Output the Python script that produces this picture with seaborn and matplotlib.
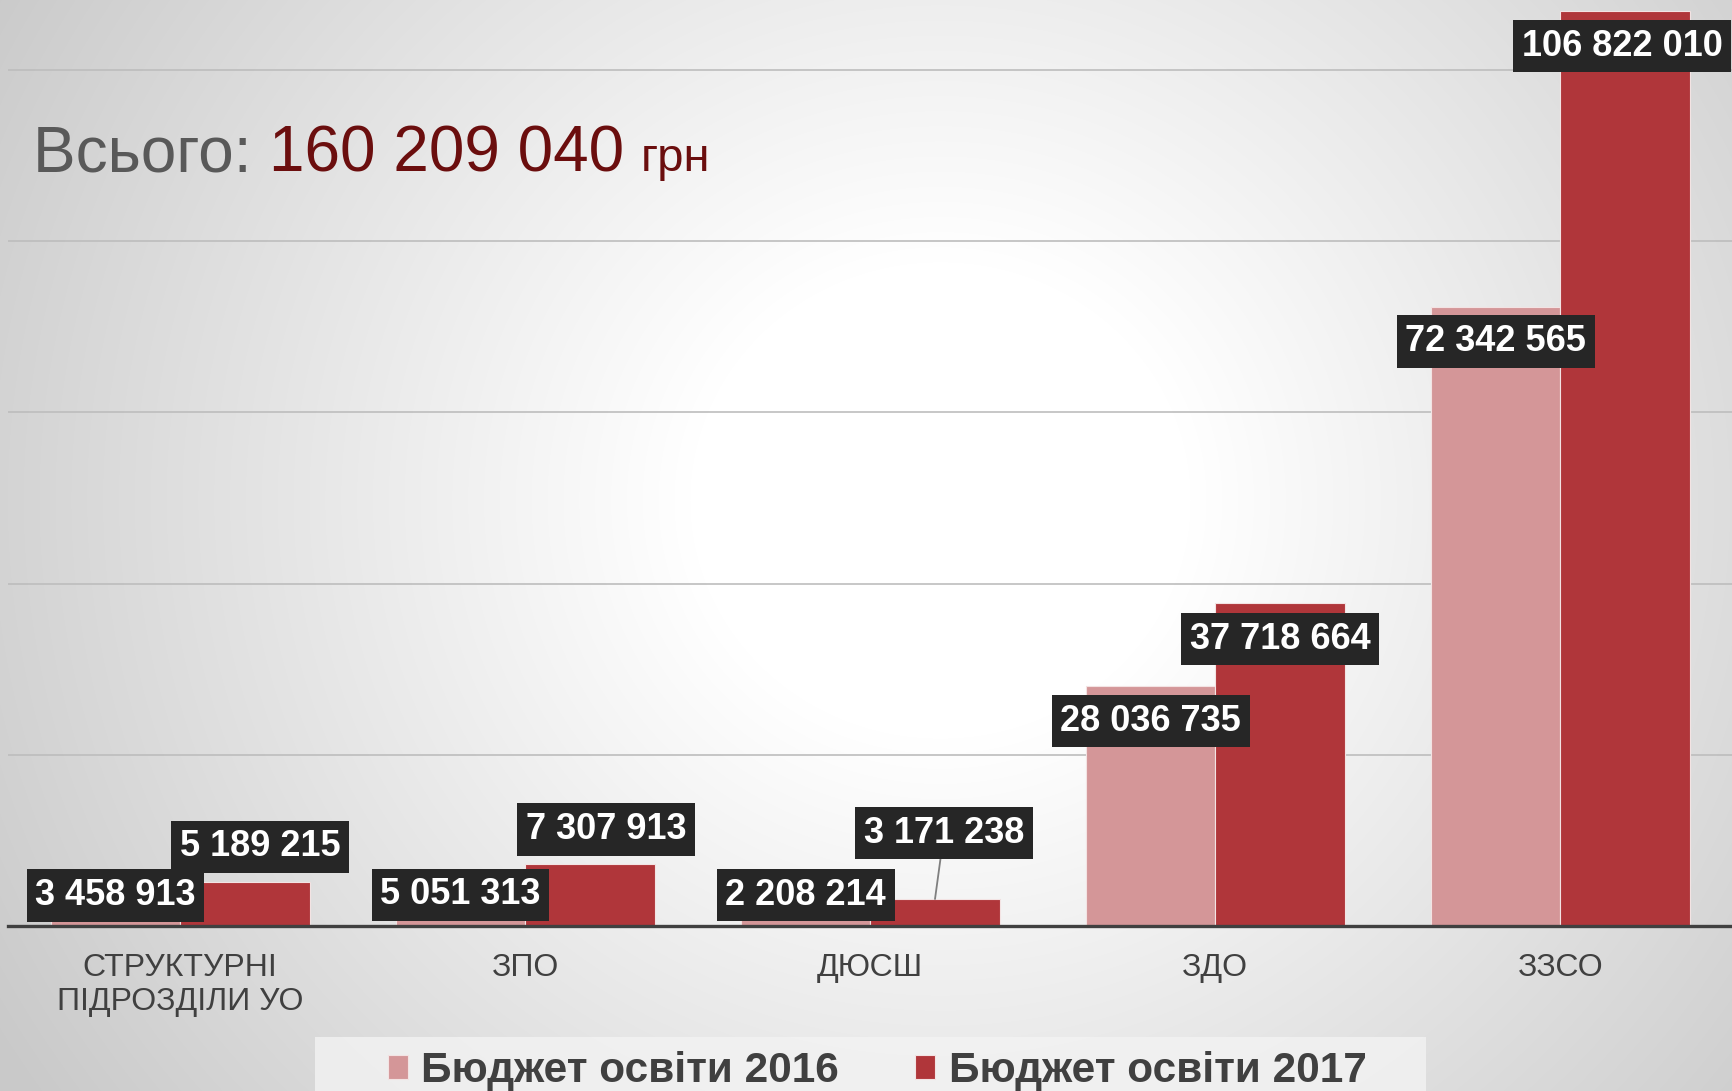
import numpy as np
import pandas as pd
import matplotlib
matplotlib.use('Agg')
import matplotlib.pyplot as plt
import matplotlib.patches as mpatches
import seaborn as sns

categories = ['СТРУКТУРНІ\nПІДРОЗДІЛИ УО', 'ЗПО', 'ДЮСШ', 'ЗДО', 'ЗЗСО']
budget_2016 = [3458913, 5051313, 2208214, 28036735, 72342565]
budget_2017 = [5189215, 7307913, 3171238, 37718664, 106822010]
series_names = ['Бюджет освіти 2016', 'Бюджет освіти 2017']
total_label = '160 209 040'
y_ticks = [0, 20e6, 40e6, 60e6, 80e6, 100e6]

df = pd.DataFrame({
    'category': categories * 2,
    'series': [series_names[0]] * len(categories) + [series_names[1]] * len(categories),
    'value': budget_2016 + budget_2017,
})

# label placement, pixels from the bar top (dx, dy)
offsets = [
    [(0, 1), (0, -12), (0, 12), (0, -35), (0, -35)],
    [(15, 35), (16, 34), (9, 66), (0, -36), (-3, -35)],
]

W, H = 1733, 1091
fig = plt.figure(figsize=(W / 100, H / 100), dpi=100)

# radial grey-to-white background
bg = fig.add_axes([0, 0, 1, 1], zorder=-10)
yy, xx = np.mgrid[0:H, 0:W]
d = np.sqrt((xx - 940.0) ** 2 + ((yy - 500.0) * 1.05) ** 2)
t = np.clip((d - 250) / 850, 0, 1)
shade = 1 - 0.21 * t
bg.imshow(np.dstack([shade] * 3), aspect='auto', extent=[0, 1, 0, 1])
bg.axis('off')

ax = fig.add_axes([7.6 / W, 1 - 926.2 / H, 1 - 7.6 / W, 926.2 / H])
ax.set_facecolor('none')

sns.barplot(data=df, x='category', y='value', hue='series', hue_order=series_names,
            order=categories, palette=['#d49698', '#b0363a'], saturation=1,
            width=0.75, errorbar=None, edgecolor='#f3e3e3', linewidth=0.8,
            ax=ax, zorder=2)

ax.set_xlim(-0.5, 4.5)
ax.set_ylim(0, 108.13e6)
ax.set_yticks(y_ticks)
ax.set_yticklabels([])
ax.tick_params(axis='y', length=0)
ax.grid(axis='y', color='#bdbdbd', linewidth=1.2, zorder=0)
ax.set_axisbelow(True)
for s in ['top', 'right', 'left']:
    ax.spines[s].set_visible(False)
ax.spines['bottom'].set_color('#404040')
ax.spines['bottom'].set_linewidth(2.4)
ax.spines['bottom'].set_zorder(4)
ax.set_xlabel('')
ax.set_ylabel('')
ax.tick_params(axis='x', length=0, pad=19.5)
ax.set_xticks(range(len(categories)))
ax.set_xticklabels(categories, fontsize=23, color='#404040',
                   family='Liberation Sans', linespacing=1.18)

for i, cont in enumerate(ax.containers):
    for j, bar in enumerate(cont):
        x = bar.get_x() + bar.get_width() / 2
        top = bar.get_height()
        dx, dy = offsets[i][j]
        txt = f'{int(round(top)):,}'.replace(',', ' ')
        arrow = None
        if dy > 50:
            arrow = dict(arrowstyle='-', color='#7f7f7f', lw=1.3, shrinkA=0, shrinkB=0)
        ax.annotate(txt, xy=(x, top), xytext=(dx, dy), textcoords='offset pixels',
                    ha='center', va='center', fontsize=26, fontweight='bold',
                    color='white', family='Liberation Sans', zorder=5,
                    bbox=dict(boxstyle='square,pad=0.24', fc='#262626', ec='none'),
                    arrowprops=arrow, annotation_clip=False)

# legend
handles, labels = ax.get_legend_handles_labels()
if ax.legend_:
    ax.legend_.remove()
fig.patches.append(mpatches.Rectangle((315 / W, 0), (1426 - 315) / W, 1 - 1037 / H,
                                      transform=fig.transFigure, fc='#f3f3f3',
                                      ec='none', alpha=0.8, zorder=-5))
fig.legend(handles, labels, loc='center', bbox_to_anchor=(877 / W, 1 - 1071 / H),
           ncol=2, frameon=False, handlelength=0.48, handleheight=0.48,
           handletextpad=0.31, columnspacing=1.8,
           prop=dict(family='Liberation Sans', weight='bold', size=30.5),
           labelcolor='#404040')

# title
t1 = fig.text(33 / W, 1 - 171 / H, 'Всього: ', fontsize=46, color='#595959',
              family='Liberation Sans', va='baseline')
fig.canvas.draw()
r = fig.canvas.get_renderer()
e1 = t1.get_window_extent(r)
t2 = fig.text(e1.x1 / W, 1 - 171 / H, total_label, fontsize=46, color='#6b0e0e',
              family='Liberation Sans', va='baseline')
e2 = t2.get_window_extent(r)
fig.text(e2.x1 / W + 16 / W, 1 - 171 / H, 'грн', fontsize=34, color='#6b0e0e',
         family='Liberation Sans', va='baseline')

fig.savefig('out.png', dpi=100)
